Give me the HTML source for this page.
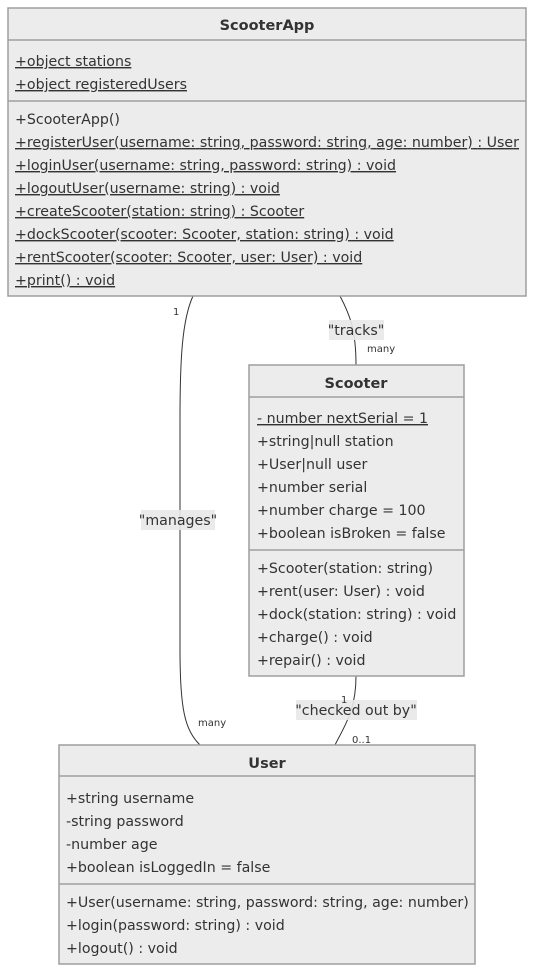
<!DOCTYPE html>
<html><head><meta charset="utf-8"><style>
html,body{margin:0;padding:0;background:#fff;width:535px;height:972px;overflow:hidden}
text{font-family:"DejaVu Sans","Liberation Sans",sans-serif;fill:#333}
.m{font-size:14.2px}
.u{text-decoration:underline}
.t{font-size:14.5px;font-weight:bold;text-anchor:middle}
.s{font-size:10px}
</style></head><body>
<svg width="535" height="972" xmlns="http://www.w3.org/2000/svg">
<g fill="none" stroke="#333" stroke-width="1">
<path d="M193,296 C182,320 180,360 180,420 L180,650 C180,710 185,730 200,745"/>
<path d="M340,296 C350,315 356,330 356,365"/>
<path d="M356,676 C356,710 345,725 335,745"/>
</g>
<g fill="#ececec" stroke="#9e9e9e" stroke-width="1.5">
<rect x="8" y="8" width="518" height="288"/>
<rect x="249" y="365" width="215" height="311"/>
<rect x="59" y="745" width="416" height="219"/>
</g>
<g stroke="#9e9e9e" stroke-width="1.5">
<line x1="8" y1="40" x2="526" y2="40"/><line x1="8" y1="101" x2="526" y2="101"/>
<line x1="249" y1="397" x2="464" y2="397"/><line x1="249" y1="550" x2="464" y2="550"/>
<line x1="59" y1="776" x2="475" y2="776"/><line x1="59" y1="884" x2="475" y2="884"/>
</g>
<text class="t" x="267" y="30">ScooterApp</text>
<text class="m u" x="15" y="66">+object stations</text>
<text class="m u" x="15" y="89">+object registeredUsers</text>
<text class="m" x="15" y="124">+ScooterApp()</text>
<text class="m u" x="15" y="147" textLength="504">+registerUser(username: string, password: string, age: number) : User</text>
<text class="m u" x="15" y="170">+loginUser(username: string, password: string) : void</text>
<text class="m u" x="15" y="193">+logoutUser(username: string) : void</text>
<text class="m u" x="15" y="216">+createScooter(station: string) : Scooter</text>
<text class="m u" x="15" y="239">+dockScooter(scooter: Scooter, station: string) : void</text>
<text class="m u" x="15" y="262">+rentScooter(scooter: Scooter, user: User) : void</text>
<text class="m u" x="15" y="285">+print() : void</text>

<text class="t" x="356" y="388">Scooter</text>
<text class="m u" x="257" y="423">- number nextSerial = 1</text>
<text class="m" x="257" y="446">+string|null station</text>
<text class="m" x="257" y="469">+User|null user</text>
<text class="m" x="257" y="492">+number serial</text>
<text class="m" x="257" y="515">+number charge = 100</text>
<text class="m" x="257" y="538">+boolean isBroken = false</text>
<text class="m" x="257" y="573">+Scooter(station: string)</text>
<text class="m" x="257" y="596">+rent(user: User) : void</text>
<text class="m" x="257" y="619">+dock(station: string) : void</text>
<text class="m" x="257" y="642">+charge() : void</text>
<text class="m" x="257" y="665">+repair() : void</text>

<text class="t" x="267" y="768">User</text>
<text class="m" x="66" y="803">+string username</text>
<text class="m" x="66" y="826">-string password</text>
<text class="m" x="66" y="849">-number age</text>
<text class="m" x="66" y="872">+boolean isLoggedIn = false</text>
<text class="m" x="66" y="907">+User(username: string, password: string, age: number)</text>
<text class="m" x="66" y="930">+login(password: string) : void</text>
<text class="m" x="66" y="953">+logout() : void</text>

<rect x="141" y="510" width="74" height="20" fill="#e8e8e8" opacity="0.9"/>
<text class="m" x="178" y="525" text-anchor="middle">"manages"</text>
<rect x="329" y="320" width="55" height="20" fill="#e8e8e8" opacity="0.9"/>
<text class="m" x="356" y="335" text-anchor="middle">"tracks"</text>
<rect x="296" y="700" width="121" height="20" fill="#e8e8e8" opacity="0.9"/>
<text class="m" x="356" y="715" text-anchor="middle">"checked out by"</text>

<text class="s" x="173" y="315">1</text>
<text class="s" x="198" y="726">many</text>
<text class="s" x="367" y="352">many</text>
<text class="s" x="341" y="703">1</text>
<text class="s" x="352" y="743">0..1</text>
</svg>
</body></html>
